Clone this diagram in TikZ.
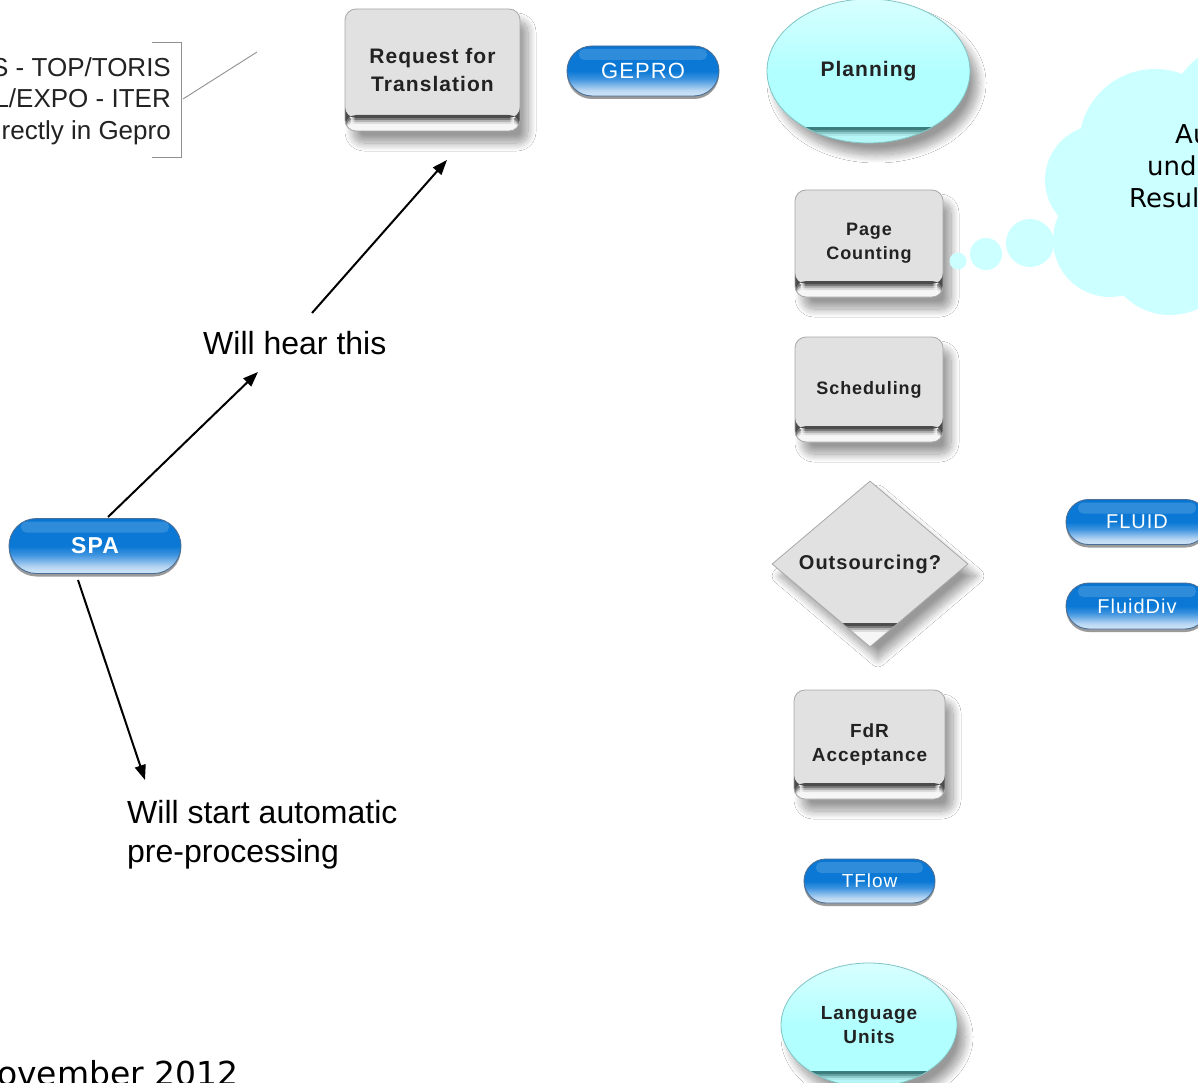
\documentclass[tikz,border=0pt]{standalone}
\usepackage{fontspec}
\setmainfont{Liberation Sans}
\newfontfamily\lsfont{Liberation Sans}[LetterSpace=5]
\newfontfamily\djfont{DejaVu Sans}
\usetikzlibrary{shapes.geometric,shapes.misc,shadows,shadows.blur,arrows.meta,calc}
\definecolor{boxgray}{HTML}{E1E1E1}
\definecolor{boxline}{HTML}{A8A8A8}
\definecolor{txt}{HTML}{222222}
\definecolor{pillB}{HTML}{0A78D4}
\definecolor{pillT}{HTML}{0A72CE}
\definecolor{pillM}{HTML}{3F94E0}
\definecolor{pillL2}{HTML}{B8D6F2}
\definecolor{pillL}{HTML}{D2E7F8}
\definecolor{pillline}{HTML}{4A6F96}
\definecolor{pillshadow}{HTML}{9A9A9A}
\definecolor{cyanT}{HTML}{D8FFFF}
\definecolor{cyanB}{HTML}{B2FFFF}
\definecolor{cyanline}{HTML}{80C4C4}
\definecolor{cloudc}{HTML}{CCFFFF}
\definecolor{gbA}{HTML}{F6F6F6}
\definecolor{gbB}{HTML}{DCDCDC}
\definecolor{gbC}{HTML}{B2B2B2}
\definecolor{gbD}{HTML}{7A7A7A}
\definecolor{gbE}{HTML}{4C4C4C}
\definecolor{cbA}{HTML}{B6F6F6}
\definecolor{cbB}{HTML}{A8E8E8}
\definecolor{cbC}{HTML}{8CCACA}
\definecolor{cbD}{HTML}{64A2A2}
\definecolor{cbE}{HTML}{3C7C7C}
\definecolor{brk}{HTML}{909090}
\pgfdeclareverticalshading{pillsh}{100bp}{color(0bp)=(pillL); color(25bp)=(pillL); color(31bp)=(pillL2); color(42bp)=(pillM); color(50bp)=(pillB); color(72bp)=(pillB); color(75bp)=(pillT); color(100bp)=(pillT)}
% band at the bottom of a shape: #1 height, #2..#6 colours from light to dark
\newcommand{\mkband}[6]{%
  \fill[#2] (path picture bounding box.south west) rectangle ($(path picture bounding box.south east)+(0,-#1)$);
  \fill[#3] ($(path picture bounding box.south west)+(0,-#1+7)$) rectangle ($(path picture bounding box.south east)+(0,-#1+9)$);
  \fill[#4] ($(path picture bounding box.south west)+(0,-#1+5)$) rectangle ($(path picture bounding box.south east)+(0,-#1+7)$);
  \fill[#5] ($(path picture bounding box.south west)+(0,-#1+3)$) rectangle ($(path picture bounding box.south east)+(0,-#1+5)$);
  \fill[#6] ($(path picture bounding box.south west)+(0,-#1)$) rectangle ($(path picture bounding box.south east)+(0,-#1+3)$);}
\tikzset{
  softshadow/.style={blur shadow={shadow xshift=8pt,shadow yshift=-12pt,shadow blur radius=8pt,shadow blur steps=16,shadow opacity=40}},
  gbox/.style={draw=boxline, line width=0.8pt, rounded corners=11pt, fill=boxgray, inner sep=0pt, align=center,
    text=txt, font=\lsfont\bfseries\fontsize{19}{24}\selectfont, softshadow,
    path picture={\mkband{16}{gbA}{gbB}{gbC}{gbD}{gbE}}},
  gdiam/.style={diamond, draw=boxline, line width=0.8pt, fill=boxgray, inner sep=0pt, align=center,
    text=txt, font=\lsfont\bfseries\fontsize{20}{24}\selectfont, softshadow,
    path picture={\mkband{24}{gbA}{gbB}{gbC}{gbD}{gbE}}},
  cyell/.style={ellipse, draw=cyanline, line width=0.8pt, top color=cyanT, bottom color=cyanB, middle color=cyanB, inner sep=0pt, align=center,
    text=txt, font=\lsfont\bfseries\fontsize{19}{24}\selectfont, softshadow,
    path picture={\mkband{16}{cbA}{cbB}{cbC}{cbD}{cbE}}},
  pill/.style={rounded rectangle, draw=pillline, line width=0.9pt, shade, shading=pillsh, inner sep=0pt, text=white,
    font=\lsfont\fontsize{20}{24}\selectfont,
    general shadow={shadow yshift=-3pt, fill=pillshadow},
    path picture={\fill[white, opacity=0.15, rounded corners=5pt] ($(path picture bounding box.north west)+(12,3)$) rectangle ($(path picture bounding box.north east)+(-12,14)$);}},
  lbl/.style={inner sep=0pt, text=black, font=\fontsize{32}{39}\selectfont},
  arr/.style={draw=black, line width=2pt, -{Triangle[length=15pt,width=11pt]}},
}
\begin{document}
\begin{tikzpicture}[x=1pt,y=-1pt]
\useasboundingbox (0,0) rectangle (1198,1083);
\clip (0,0) rectangle (1198,1083);
\fill[white] (0,0) rectangle (1198,1083);

% left bracketed text
\node[inner sep=0pt, anchor=north east, align=right, text=txt, font=\fontsize{26}{31.5}\selectfont] (lefttxt) at (171,57) {S - TOP/TORIS\\L/EXPO - ITER\\rectly in Gepro};
\draw[brk, line width=0.9pt] (152,42) -- (181,42) -- (181,157) -- (152,157);
\coordinate (brk) at (183,99);
\coordinate (callout) at (257,52);
\draw[brk, line width=0.9pt] (brk) -- (callout);

% boxes
\node[gbox, minimum width=175pt, minimum height=122pt, font=\lsfont\bfseries\fontsize{21}{28}\selectfont] (req) at (432.5,70) {Request for\\Translation};
\node[pill, minimum width=152pt, minimum height=50pt, font=\lsfont\fontsize{22}{24}\selectfont] (gepro) at (643,71) {GEPRO};
\node[cyell, minimum width=203pt, minimum height=144pt, font=\lsfont\bfseries\fontsize{21}{24}\selectfont] (plan) at (868.5,71) {Planning};
\node[gbox, minimum width=148pt, minimum height=107pt, font=\lsfont\bfseries\fontsize{18}{24}\selectfont] (page) at (869,243.5) {Page\\Counting};
\node[gbox, minimum width=148pt, minimum height=105pt, font=\lsfont\bfseries\fontsize{18}{24}\selectfont] (sched) at (869,389.5) {Scheduling};
\node[gdiam, minimum width=196pt, minimum height=166pt] (outs) at (870,564) {Outsourcing?};
\node[pill, minimum width=142pt, minimum height=45pt] (fluid) at (1137,522) {FLUID};
\node[pill, minimum width=142pt, minimum height=46pt] (fdiv) at (1137,606) {FluidDiv};
\node[gbox, minimum width=151pt, minimum height=109pt] (fdr) at (869.5,744.5) {FdR\\Acceptance};
\node[pill, minimum width=131pt, minimum height=44pt, font=\lsfont\fontsize{19}{24}\selectfont] (tflow) at (869.5,881) {TFlow};
\node[cyell, minimum width=176pt, minimum height=124pt] (lang) at (869,1025) {Language\\Units};
\node[pill, minimum width=172pt, minimum height=55pt, font=\lsfont\bfseries\fontsize{23}{24}\selectfont] (spa) at (95,546) {SPA};

% thought cloud
\fill[cloudc] (1155,145) circle (76pt) (1100,180) circle (55pt) (1110,240) circle (57pt)
  (1170,250) circle (65pt) (1250,125) circle (85pt) (1215,205) circle (90pt);
\fill[cloudc] (958,261) circle (8.5pt) (986,254) circle (16pt) (1030,243) circle (24pt);
\node[inner sep=0pt, anchor=north west, align=left, text=black, font=\djfont\fontsize{26}{32}\selectfont] (cloudtxt) at (1129,124) {\hspace{46pt}Au\\\hspace{18pt}unde\\Result};

% labels and arrows
\node[lbl, anchor=west] (hear) at (203,343) {Will hear this};
\node[lbl, anchor=north west, align=left] (start) at (127,800) {Will start automatic\\pre-processing};
\coordinate (a1s) at (108,517);
\coordinate (a1e) at (258,372);
\coordinate (a2s) at (312,313);
\coordinate (a2e) at (447,160);
\coordinate (a3s) at (78,580);
\coordinate (a3e) at (145,780);
\draw[arr] (a1s) -- (a1e);
\draw[arr] (a2s) -- (a2e);
\draw[arr] (a3s) -- (a3e);

\node[inner sep=0pt, anchor=base west, text=black, font=\djfont\fontsize{33}{36}\selectfont] (date) at (-3,1085) {ovember 2012};
\end{tikzpicture}
\end{document}
